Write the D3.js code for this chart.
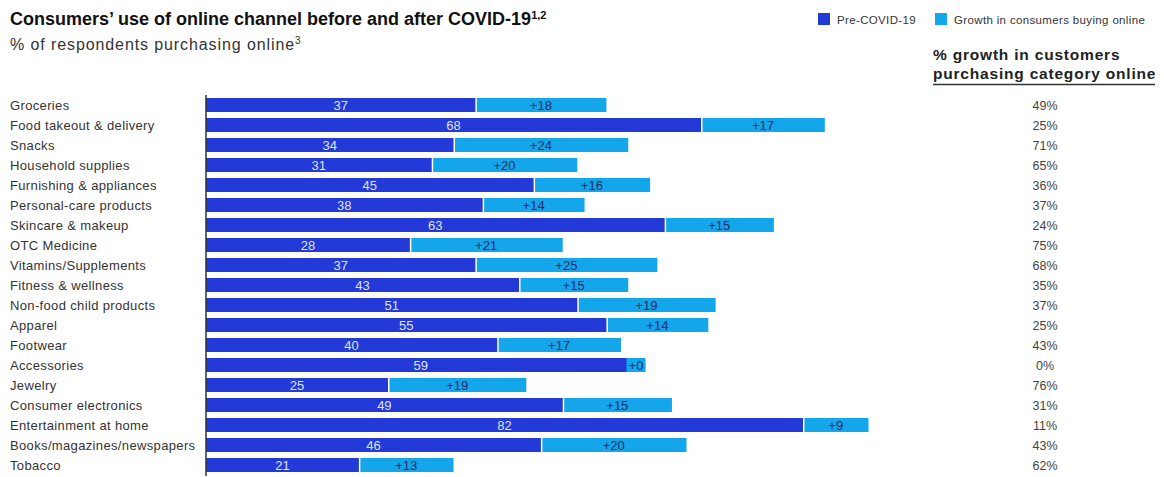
<!DOCTYPE html>
<html>
<head>
<meta charset="utf-8">
<script src="https://cdn.jsdelivr.net/npm/d3@7"></script>
<style>
  html, body { margin: 0; padding: 0; background: #fff; }
  svg { display: block; font-family: "Liberation Sans", Arial, sans-serif; }
</style>
</head>
<body>
<svg id="chart" width="1164" height="477"></svg>
<script>
// Categories and values (% of respondents purchasing online)
const categories = [
  "Groceries", "Food takeout & delivery", "Snacks", "Household supplies",
  "Furnishing & appliances", "Personal-care products", "Skincare & makeup",
  "OTC Medicine", "Vitamins/Supplements", "Fitness & wellness",
  "Non-food child products", "Apparel", "Footwear", "Accessories", "Jewelry",
  "Consumer electronics", "Entertainment at home", "Books/magazines/newspapers",
  "Tobacco"
];
const preCovid = [37, 68, 34, 31, 45, 38, 63, 28, 37, 43, 51, 55, 40, 59, 25, 49, 82, 46, 21];
const growth   = [18, 17, 24, 20, 16, 14, 15, 21, 25, 15, 19, 14, 17, 0, 19, 15, 9, 20, 13];
const growthPct = ["49%", "25%", "71%", "65%", "36%", "37%", "24%", "75%", "68%", "35%",
                   "37%", "25%", "43%", "0%", "76%", "31%", "11%", "43%", "62%"];
const seriesNames = ["Pre-COVID-19", "Growth in consumers buying online"];

const darkBlue = "#2339d8";
const lightBlue = "#13a6ea";

const svg = d3.select("#chart");

const x = d3.scaleLinear().domain([0, 91]).range([206, 868.5]);
const y = d3.scaleBand().domain(categories).range([95, 475])
  .paddingInner(0.3).paddingOuter(0.15);

const rows = categories.map((c, i) => ({ cat: c, pre: preCovid[i], grow: growth[i], pct: growthPct[i] }));

// Title and subtitle
const title = svg.append("text").attr("x", 10).attr("y", 25)
  .attr("font-size", 18).attr("font-weight", "bold").attr("fill", "#111");
title.append("tspan").text("Consumers’ use of online channel before and after COVID-19");
title.append("tspan").attr("dy", -6).attr("font-size", 11).text("1,2");

const sub = svg.append("text").attr("x", 10).attr("y", 50)
  .attr("font-size", 16).attr("letter-spacing", 0.9).attr("fill", "#333");
sub.append("tspan").text("% of respondents purchasing online");
sub.append("tspan").attr("dy", -6).attr("font-size", 10).attr("letter-spacing", 0).text("3");

// Legend
const legend = svg.append("g");
[[818, darkBlue, 0], [935, lightBlue, 1]].forEach(([lx, col, i]) => {
  legend.append("rect").attr("x", lx).attr("y", 13).attr("width", 12).attr("height", 12).attr("fill", col);
  legend.append("text").attr("x", lx + 19).attr("y", 23.5).attr("font-size", 11.5)
    .attr("letter-spacing", 0.35).attr("fill", "#333").text(seriesNames[i]);
});

// Right column header
svg.append("text").attr("x", 933).attr("y", 60).attr("font-size", 15.5)
  .attr("letter-spacing", 0.8).attr("font-weight", "bold").attr("fill", "#222")
  .text("% growth in customers");
svg.append("text").attr("x", 933).attr("y", 79).attr("font-size", 15.5)
  .attr("letter-spacing", 0.8).attr("font-weight", "bold").attr("fill", "#222")
  .text("purchasing category online");
svg.append("line").attr("x1", 933).attr("x2", 1155).attr("y1", 84.5).attr("y2", 84.5)
  .attr("stroke", "#333").attr("stroke-width", 1.3);

// Category labels
svg.append("g").selectAll("text").data(rows).join("text")
  .attr("x", 10).attr("y", d => y(d.cat) + y.bandwidth() / 2)
  .attr("dy", "0.35em").attr("font-size", 13).attr("letter-spacing", 0.35).attr("fill", "#333")
  .text(d => d.cat);

// Pre-COVID bars
svg.append("g").selectAll("rect").data(rows).join("rect")
  .attr("x", x(0)).attr("y", d => y(d.cat))
  .attr("width", d => x(d.pre) - x(0)).attr("height", y.bandwidth())
  .attr("fill", darkBlue);

// Growth bars
svg.append("g").selectAll("rect").data(rows).join("rect")
  .attr("x", d => x(d.pre) + 1.5).attr("y", d => y(d.cat))
  .attr("width", d => Math.max(0, x(d.pre + d.grow) - x(d.pre) - 1.5)).attr("height", y.bandwidth())
  .attr("fill", lightBlue);

// Pre-COVID value labels
svg.append("g").selectAll("text").data(rows).join("text")
  .attr("x", d => (x(0) + x(d.pre)) / 2).attr("y", d => y(d.cat) + y.bandwidth() / 2)
  .attr("dy", "0.36em").attr("text-anchor", "middle").attr("font-size", 13)
  .attr("fill", "#dfe4ff").text(d => d.pre);

// Growth value labels; a zero growth gets a small chip so the label stays readable
const gl = svg.append("g");
rows.filter(d => d.grow === 0).forEach(d => {
  gl.append("rect").attr("x", x(d.pre) - 9).attr("y", y(d.cat))
    .attr("width", 19).attr("height", y.bandwidth()).attr("fill", lightBlue);
});
gl.selectAll("text").data(rows).join("text")
  .attr("x", d => d.grow === 0 ? x(d.pre) + 0.5 : (x(d.pre) + x(d.pre + d.grow)) / 2)
  .attr("y", d => y(d.cat) + y.bandwidth() / 2)
  .attr("dy", "0.36em").attr("text-anchor", "middle").attr("font-size", 13)
  .attr("fill", "#1b2a66").text(d => "+" + d.grow);

// Baseline axis
svg.append("line").attr("x1", x(0)).attr("x2", x(0)).attr("y1", 95).attr("y2", 476)
  .attr("stroke", "#333").attr("stroke-width", 1.5);

// % growth column
svg.append("g").selectAll("text").data(rows).join("text")
  .attr("x", 1045).attr("y", d => y(d.cat) + y.bandwidth() / 2)
  .attr("dy", "0.36em").attr("text-anchor", "middle").attr("font-size", 12.5)
  .attr("fill", "#444").text(d => d.pct);
</script>
</body>
</html>
